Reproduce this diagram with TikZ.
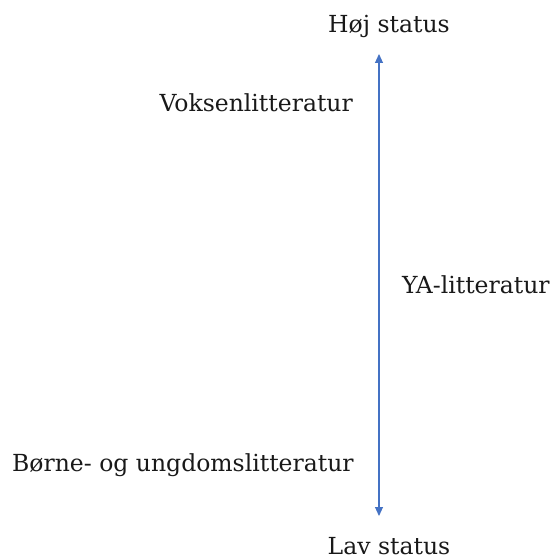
\documentclass[tikz,border=0pt]{standalone}
\usepackage{fontspec}
\setmainfont{DejaVu Serif}
\usetikzlibrary{arrows.meta}
\definecolor{arrowblue}{HTML}{4472C4}
\begin{document}
\begin{tikzpicture}[x=1pt,y=-1pt,
  lbl/.style={font=\fontsize{23.5}{27}\selectfont, inner sep=0pt, text=black!90},
  axis/.style={arrowblue, line width=1.1pt, {Triangle[length=9pt,width=8pt]}-{Triangle[length=9pt,width=8pt]}}]
\useasboundingbox (0,0) rectangle (560,556);
\node[lbl] (hoj) at (389,26) {Høj status};
\node[lbl] (lav) at (389,546) {Lav status};
\coordinate (top) at (379,54);
\coordinate (bot) at (379,516);
\draw[axis] (bot) -- (top);
\node[lbl, anchor=east] (voksen) at (353,103) {Voksenlitteratur};
\node[lbl, anchor=west] (ya) at (402,285) {YA-litteratur};
\node[lbl, anchor=west] (borne) at (12,465) {Børne- og ungdomslitteratur};
\end{tikzpicture}
\end{document}
